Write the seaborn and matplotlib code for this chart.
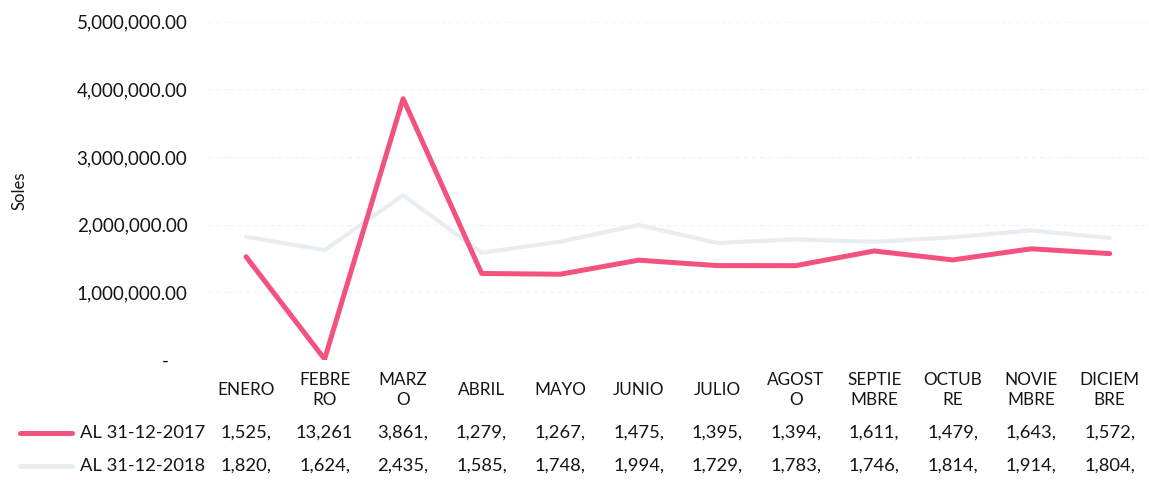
import numpy as np
import pandas as pd
import matplotlib
matplotlib.use("Agg")
import matplotlib.pyplot as plt
import matplotlib.transforms as mtrans
import seaborn as sns

months = ["ENERO", "FEBRE\nRO", "MARZ\nO", "ABRIL", "MAYO", "JUNIO", "JULIO",
          "AGOST\nO", "SEPTIE\nMBRE", "OCTUB\nRE", "NOVIE\nMBRE", "DICIEM\nBRE"]
series_names = ["AL 31-12-2017", "AL 31-12-2018"]
vals_2017 = [1525000, 13261, 3861000, 1279000, 1267000, 1475000,
             1395000, 1394000, 1611000, 1479000, 1643000, 1572000]
vals_2018 = [1820000, 1624000, 2435000, 1585000, 1748000, 1994000,
             1729000, 1783000, 1746000, 1814000, 1914000, 1804000]
y_ticks = [0, 1000000, 2000000, 3000000, 4000000, 5000000]

colors = {"AL 31-12-2017": "#f2527d", "AL 31-12-2018": "#e8edf2"}

df = pd.DataFrame({
    "mes": list(range(len(months))) * 2,
    "valor": vals_2017 + vals_2018,
    "serie": [series_names[0]] * len(months) + [series_names[1]] * len(months),
})

sns.set_theme(style="white")
plt.rcParams["font.family"] = ["Lato", "DejaVu Sans"]
txt = "#151515"

fig = plt.figure(figsize=(11.49, 4.8), dpi=100)
ax = fig.add_axes([0.18, 0.25, 0.82, 0.705])

# 2018 first so the pink line sits on top
sns.lineplot(data=df, x="mes", y="valor", hue="serie", hue_order=series_names[::-1],
             palette=colors, ax=ax, legend=False, linewidth=3.2)
for ln, lw in zip(ax.get_lines(), [3.0, 3.6]):
    ln.set_linewidth(lw)

ax.set_xlim(-0.5, len(months) - 0.5)
ax.set_ylim(0, 5000000)
ax.set_yticks(y_ticks)
ax.set_yticklabels(["-    "] + [f"{v:,.2f}" for v in y_ticks[1:]], fontsize=13.5, color=txt)
ax.tick_params(axis="y", length=0, pad=14)
ax.set_xticks([])
ax.set_xlabel("")
ax.set_ylabel("Soles", fontsize=12, color=txt)
ax.yaxis.set_label_coords(-0.19, 0.5)
ax.grid(axis="y", color="#f3f3f3", linewidth=0.8, linestyle=(0, (4, 3)))
for s in ax.spines.values():
    s.set_visible(False)

# data table under the chart
trans = mtrans.blended_transform_factory(ax.transData, fig.transFigure)
for i, m in enumerate(months):
    ax.text(i, 1 - 390 / 480, m, transform=trans, ha="center", va="center",
            fontsize=12.3, color=txt, linespacing=1.3, clip_on=False)

row_y = [1 - 433 / 480, 1 - 466 / 480]
for name, vals, yy in zip(series_names, [vals_2017, vals_2018], row_y):
    for i, v in enumerate(vals):
        ax.text(i, yy, f"{v:,.2f}"[:6], transform=trans, ha="center", va="center",
                fontsize=13.2, color=txt, clip_on=False)
    fig.text(205 / 1149, yy, name, ha="right", va="center", fontsize=13.2, color=txt)
    fig.add_artist(plt.Line2D([20 / 1149, 72 / 1149], [yy, yy], color=colors[name],
                              linewidth=3.6, transform=fig.transFigure))

fig.savefig("out.png", dpi=100)
